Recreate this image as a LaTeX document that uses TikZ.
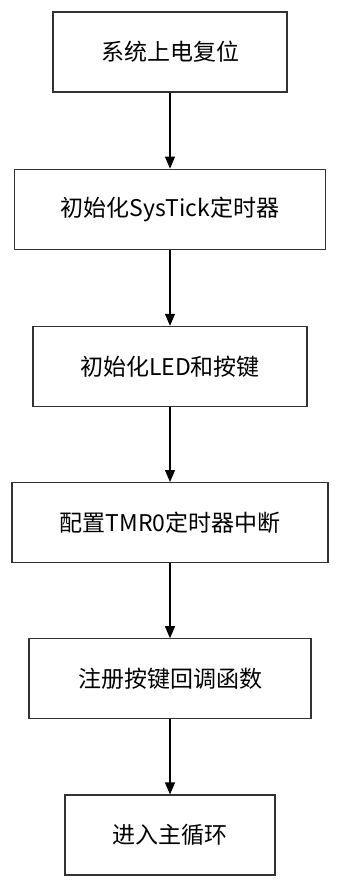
\documentclass[tikz,border=0pt]{standalone}
\usepackage{fontspec}
\setmainfont{Noto Sans CJK SC}
\usepackage{tikz}
\usetikzlibrary{arrows.meta,positioning}
\definecolor{boxline}{RGB}{50,50,50}

\begin{document}
\begin{tikzpicture}[x=1pt,y=1pt,>={Triangle[width=10pt,length=12pt]},
  font=\fontsize{23}{27}\selectfont,
  stepbox/.style={draw=boxline,line width=1.2pt,minimum height=80pt,inner sep=0pt},
  flow/.style={->,line width=1.2pt}]
  \useasboundingbox (0,0) rectangle (339,-885);
  \node[stepbox,minimum width=234pt] (reset) at (170,-52) {系统上电复位};
  \node[stepbox,minimum width=311pt,below=76pt of reset] (systick) {初始化SysTick定时器};
  \node[stepbox,minimum width=274pt,below=76pt of systick] (ledkey) {初始化LED和按键};
  \node[stepbox,minimum width=316pt,below=75pt of ledkey] (tmr) {配置TMR0定时器中断};
  \node[stepbox,minimum width=282pt,below=75pt of tmr] (callback) {注册按键回调函数};
  \node[stepbox,minimum width=210pt,below=75pt of callback] (mainloop) {进入主循环};
  \draw[flow] (reset) -- (systick);
  \draw[flow] (systick) -- (ledkey);
  \draw[flow] (ledkey) -- (tmr);
  \draw[flow] (tmr) -- (callback);
  \draw[flow] (callback) -- (mainloop);
\end{tikzpicture}
\end{document}
